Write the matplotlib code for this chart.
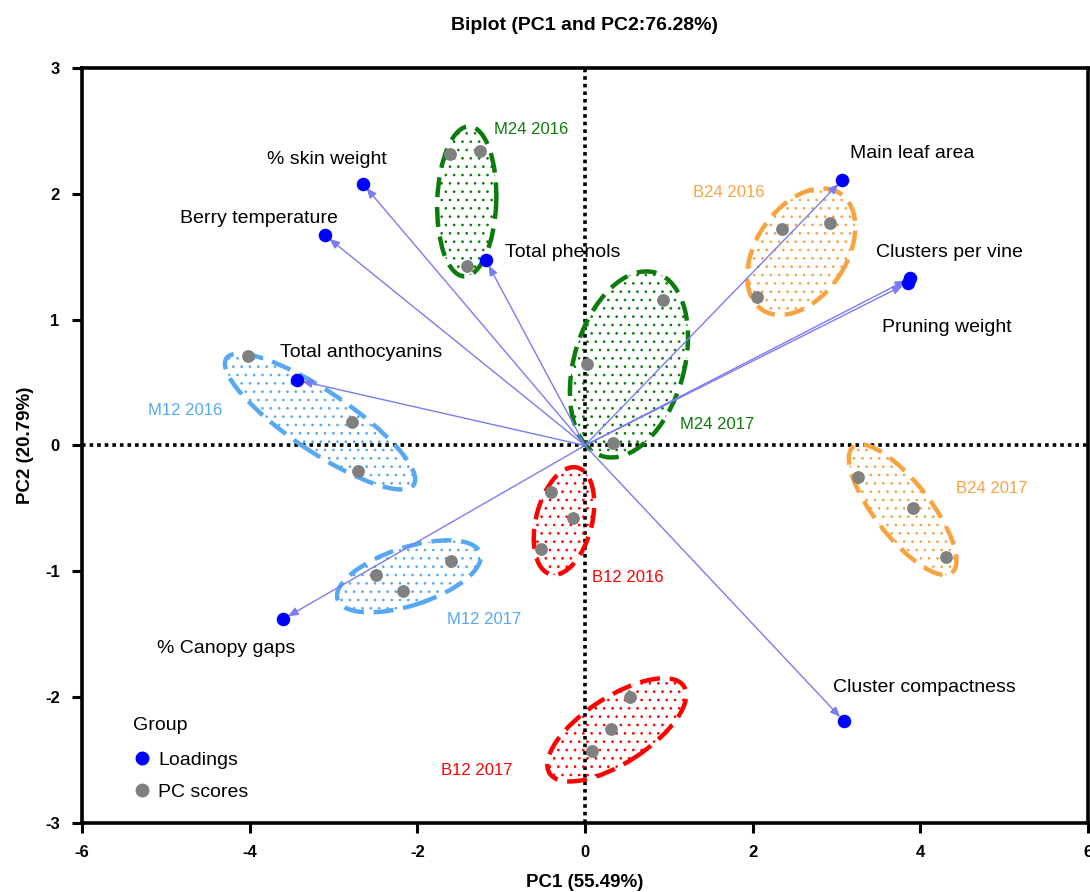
import matplotlib
matplotlib.use("Agg")
import matplotlib.pyplot as plt
import matplotlib.patches as patches
import matplotlib.transforms as transforms
from matplotlib.lines import Line2D

plt.rcParams['font.family'] = ['Liberation Sans', 'DejaVu Sans']
plt.rcParams['axes.unicode_minus'] = False

# loadings (variables)
var_names = ["% skin weight", "Berry temperature", "Total phenols", "Total anthocyanins",
             "Main leaf area", "Clusters per vine", "Pruning weight", "% Canopy gaps",
             "Cluster compactness"]
load_pc1 = [-2.65, -3.10, -1.18, -3.44, 3.07, 3.88, 3.85, -3.60, 3.09]
load_pc2 = [2.08, 1.67, 1.47, 0.52, 2.11, 1.33, 1.29, -1.38, -2.19]

# PC scores, three per group
groups = ["M24 2016", "M24 2017", "B24 2016", "B24 2017",
          "M12 2016", "M12 2017", "B12 2016", "B12 2017"]
score_pc1 = [[-1.61, -1.25, -1.41], [0.02, 0.93, 0.33], [2.35, 2.92, 2.05], [3.26, 3.91, 4.31],
             [-4.02, -2.78, -2.71], [-2.49, -2.17, -1.60], [-0.41, -0.14, -0.53], [0.54, 0.31, 0.08]]
score_pc2 = [[2.32, 2.34, 1.43], [0.65, 1.16, 0.02], [1.72, 1.77, 1.18], [-0.25, -0.50, -0.89],
             [0.71, 0.19, -0.20], [-1.03, -1.16, -0.92], [-0.37, -0.58, -0.82], [-2.00, -2.25, -2.43]]

x_ticks = [-6, -4, -2, 0, 2, 4, 6]
y_ticks = [-3, -2, -1, 0, 1, 2, 3]

# label anchors and group outlines (centre in data units, axes in pixels, angle on screen)
var_label_xy = [(-3.79, 2.27), (-4.83, 1.80), (-0.95, 1.53), (-3.64, 0.74), (3.16, 2.32),
                (3.47, 1.53), (3.54, 0.94), (-5.11, -1.61), (2.96, -1.92)]
group_label_xy = [(-1.09, 2.51), (1.13, 0.17), (1.29, 2.01), (4.43, -0.34),
                  (-5.21, 0.28), (-1.65, -1.38), (0.08, -1.05), (-1.72, -2.58)]
group_colors = ["#0b7b0b", "#0b7b0b", "#f9a240", "#f9a240",
                "#56a8f2", "#56a8f2", "#ff0000", "#ff0000"]
ell_center = [(-1.41, 1.94), (0.525, 0.644), (2.58, 1.54), (3.79, -0.51),
              (-3.16, 0.19), (-2.10, -1.04), (-0.25, -0.60), (0.38, -2.26)]
ell_size = [(150, 59), (191, 110), (140, 90), (160, 55),
            (226, 60), (150, 58), (110, 56), (160, 66)]
ell_angle = [88, 74, 56, -52, -34, 18, 76, 33]

fig = plt.figure(figsize=(10.9, 8.92), dpi=100)
ax = fig.add_axes([0.0752, 0.0774, 0.9229, 0.8464])
ax.set_xlim(-6, 6)
ax.set_ylim(-3, 3)

ax.axhline(0, color="black", lw=2.6, ls=(0, (1, 1.1)), zorder=1)
ax.axvline(0, color="black", lw=2.6, ls=(0, (1, 1.1)), zorder=1)

plt.rcParams['hatch.linewidth'] = 0.7
for (cx, cy), (w, h), ang, col in zip(ell_center, ell_size, ell_angle, group_colors):
    tr = fig.dpi_scale_trans + transforms.ScaledTranslation(cx, cy, ax.transData)
    fill = patches.Ellipse((0, 0), w / 100, h / 100, angle=ang, transform=tr,
                           facecolor="none", edgecolor=col, lw=0, hatch="..", zorder=2)
    edge = patches.Ellipse((0, 0), w / 100, h / 100, angle=ang, transform=tr,
                           facecolor="none", edgecolor=col, lw=3.2,
                           ls=(0, (4.5, 2.2)), zorder=3)
    ax.add_patch(fill)
    ax.add_patch(edge)

for xs, ys in zip(score_pc1, score_pc2):
    ax.scatter(xs, ys, s=85, color="#808080", zorder=5, linewidths=0)

for x, y in zip(load_pc1, load_pc2):
    ax.annotate("", xy=(x, y), xytext=(0, 0), zorder=4,
                arrowprops=dict(arrowstyle="-|>,head_length=0.6,head_width=0.25",
                                color="#7b7bf2", lw=1.0, shrinkA=0, shrinkB=4))
ax.scatter(load_pc1, load_pc2, s=95, color="#0000ff", zorder=6, linewidths=0)

for name, (tx, ty) in zip(var_names, var_label_xy):
    ax.text(tx, ty, name, fontsize=14, ha="left", va="center", color="black", zorder=7)
for name, (tx, ty), col in zip(groups, group_label_xy, group_colors):
    ax.text(tx, ty, name, fontsize=12, ha="left", va="center", color=col, zorder=7)

for side in ["left", "right", "top", "bottom"]:
    ax.spines[side].set_linewidth(2.6)
ax.set_xticks(x_ticks)
ax.set_yticks(y_ticks)
ax.tick_params(direction="out", length=7, width=2.2, labelsize=12, pad=9)
for lab in ax.get_xticklabels() + ax.get_yticklabels():
    lab.set_fontweight("bold")

ax.set_xlabel("PC1 (55.49%)", fontsize=13.5, fontweight="bold", labelpad=10)
ax.set_ylabel("PC2 (20.79%)", fontsize=13.5, fontweight="bold", labelpad=8)
ax.set_title("Biplot (PC1 and PC2:76.28%)", fontsize=14, fontweight="bold", pad=27)

handles = [Line2D([], [], marker="o", ls="none", color="#0000ff", markersize=9, label="Loadings"),
           Line2D([], [], marker="o", ls="none", color="#808080", markersize=9, label="PC scores")]
leg = ax.legend(handles=handles, title="Group", loc="lower left", bbox_to_anchor=(0.033, 0.006),
                frameon=False, fontsize=14, title_fontsize=14, alignment="left",
                handletextpad=0.3, handlelength=1.0, labelspacing=0.75)
leg._legend_box.sep = 12

fig.savefig("out.png", dpi=100)
